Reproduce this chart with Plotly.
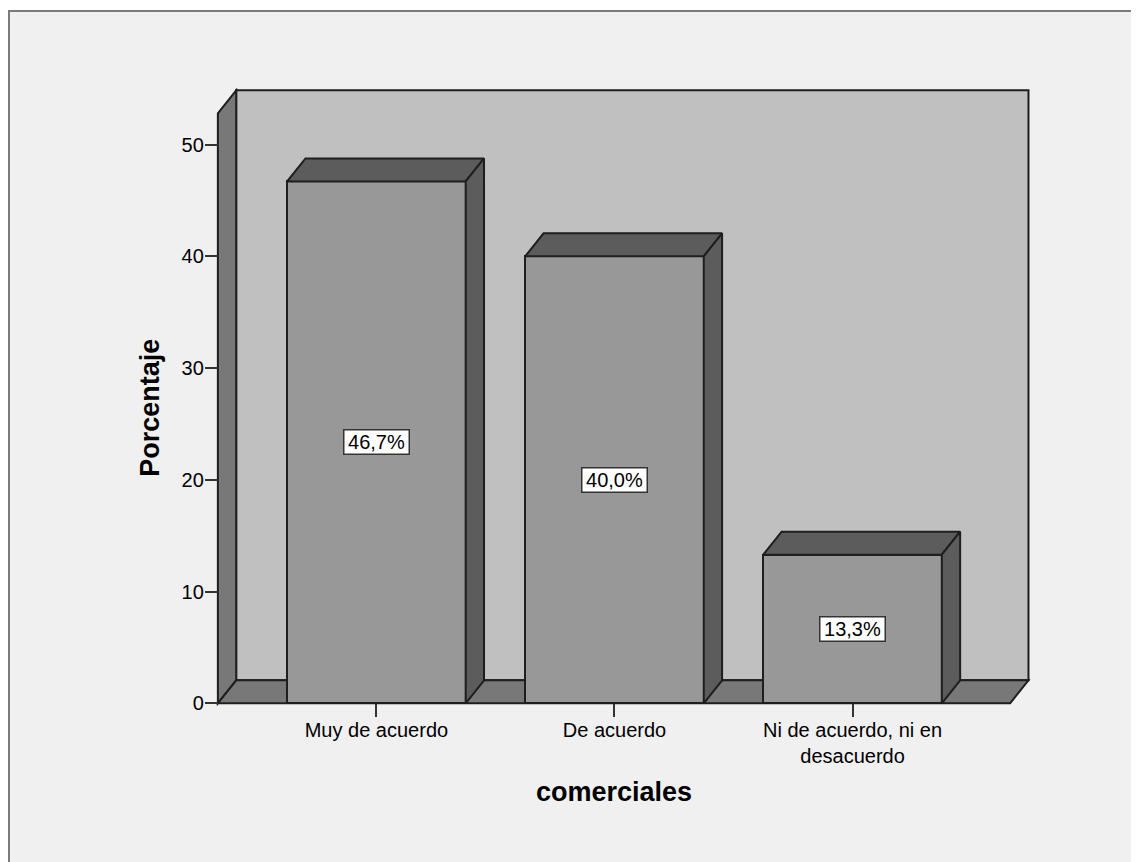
import plotly.graph_objects as go

# ---- data ----
categories = ["Muy de acuerdo", "De acuerdo", "Ni de acuerdo, ni en<br>desacuerdo"]
percentages = [46.7, 40.0, 13.3]
bar_labels = ["46,7%", "40,0%", "13,3%"]
y_ticks = [0, 10, 20, 30, 40, 50]
x_title = "comerciales"
y_title = "Porcentaje"

# ---- styling / geometry (depth effect) ----
FONT = "Arial, 'Liberation Sans', sans-serif"
BAR_W = 0.75          # bar width in category units
DX, DY = 0.077, 2.06  # 3D depth offset (x in category units, y in % units)
X0, X1 = -0.666, 2.662  # front floor extent
YTOP = 52.8           # top of back wall (back-plane value)
XR = [-0.72, 2.80]
YR = [-0.6, 55.6]
PAGE_OFF = 8          # default body margin of the html page
ML, MR, MT, MB = 205 - PAGE_OFF, 96, 82 - PAGE_OFF, 152
W, H = 1139 - PAGE_OFF, 862 - PAGE_OFF

C_WALL = "#C0C0C0"
C_SIDEPANEL = "#787878"
C_FLOOR = "#787878"
C_FRONT = "#989898"
C_TOP = "#5C5C5C"
C_EDGE = "#1E1E1E"

xs = list(range(len(categories)))

fig = go.Figure()

# bar fronts
fig.add_trace(go.Bar(
    x=xs, y=percentages, width=BAR_W,
    marker=dict(color=C_FRONT, line=dict(color=C_EDGE, width=2)),
    hoverinfo="skip", showlegend=False,
))

# bar top and side faces (derived from data)
for x, v in zip(xs, percentages):
    l, r = x - BAR_W / 2, x + BAR_W / 2
    fig.add_trace(go.Scatter(
        x=[l, l + DX, r + DX, r, l], y=[v, v + DY, v + DY, v, v],
        fill="toself", fillcolor=C_TOP, mode="lines",
        line=dict(color=C_EDGE, width=2), hoverinfo="skip", showlegend=False))
    fig.add_trace(go.Scatter(
        x=[r, r + DX, r + DX, r, r], y=[0, DY, v + DY, v, 0],
        fill="toself", fillcolor=C_TOP, mode="lines",
        line=dict(color=C_EDGE, width=2), hoverinfo="skip", showlegend=False))


def path(pts):
    return "M " + " L ".join(f"{a},{b}" for a, b in pts) + " Z"


shapes = []
# back wall
shapes.append(dict(type="path", xref="x", yref="y", layer="below",
                   path=path([(X0 + DX, DY), (X0 + DX, YTOP + DY), (X1 + DX, YTOP + DY), (X1 + DX, DY)]),
                   fillcolor=C_WALL, line=dict(color=C_EDGE, width=2)))
# left side panel
shapes.append(dict(type="path", xref="x", yref="y", layer="below",
                   path=path([(X0, 0), (X0 + DX, DY), (X0 + DX, YTOP + DY), (X0, YTOP)]),
                   fillcolor=C_SIDEPANEL, line=dict(color=C_EDGE, width=2)))
# floor
shapes.append(dict(type="path", xref="x", yref="y", layer="below",
                   path=path([(X0, 0), (X0 + DX, DY), (X1 + DX, DY), (X1, 0)]),
                   fillcolor=C_FLOOR, line=dict(color=C_EDGE, width=2)))

# outer frame (paper coords from page pixel positions)
pw, ph = W - ML - MR, H - MT - MB


def px2paper_x(p):
    return (p - PAGE_OFF - ML) / pw


def px2paper_y(p):
    return (H - MB - (p - PAGE_OFF)) / ph


shapes.insert(0, dict(type="rect", xref="paper", yref="paper", layer="below",
                      x0=px2paper_x(9), x1=px2paper_x(1175),
                      y0=px2paper_y(895), y1=px2paper_y(11),
                      fillcolor="#F0F0F0", line=dict(color="#7A7A7A", width=2)))

annotations = []
for x, v, t in zip(xs, percentages, bar_labels):
    annotations.append(dict(
        x=x, y=v / 2, xref="x", yref="y", text=t, showarrow=False,
        font=dict(family=FONT, size=20, color="#000"),
        bgcolor="#FFFFFF", bordercolor="#333333", borderwidth=1.5,
        borderpad=1, width=62, height=21, align="center", valign="middle"))

# axis titles, centred on the front axis extents
annotations.append(dict(
    x=(X0 + X1) / 2, xref="x", y=px2paper_y(792), yref="paper",
    text=f"<b>{x_title}</b>", showarrow=False, xanchor="center", yanchor="middle",
    font=dict(family=FONT, size=27, color="#000")))
annotations.append(dict(
    x=px2paper_x(150.5), xref="paper", y=YTOP / 2, yref="y",
    text=f"<b>{y_title}</b>", showarrow=False, textangle=-90,
    xanchor="center", yanchor="middle",
    font=dict(family=FONT, size=27, color="#000")))

fig.update_layout(
    width=W, height=H,
    margin=dict(l=ML, r=MR, t=MT, b=MB, pad=0),
    paper_bgcolor="#FFFFFF", plot_bgcolor="#F0F0F0",
    font=dict(family=FONT, size=20, color="#000"),
    shapes=shapes, annotations=annotations,
    bargap=0,
    xaxis=dict(
        range=XR, tickvals=xs, ticktext=categories,
        anchor="free", position=(0 - YR[0]) / (YR[1] - YR[0]),
        ticks="outside", ticklen=13, tickwidth=2, tickcolor="#333",
        ticklabelstandoff=-4,
        showgrid=False, zeroline=False, showline=False,
        tickfont=dict(family=FONT, size=20, color="#000"),
        fixedrange=True,
    ),
    yaxis=dict(
        range=YR, tickvals=y_ticks, ticktext=[str(t) for t in y_ticks],
        anchor="free", position=(X0 - XR[0]) / (XR[1] - XR[0]),
        ticks="outside", ticklen=13, tickwidth=2, tickcolor="#333",
        ticklabelstandoff=-3,
        showgrid=False, zeroline=False, showline=False,
        tickfont=dict(family=FONT, size=20, color="#000"),
        fixedrange=True,
    ),
)

fig.write_html("out.html")
